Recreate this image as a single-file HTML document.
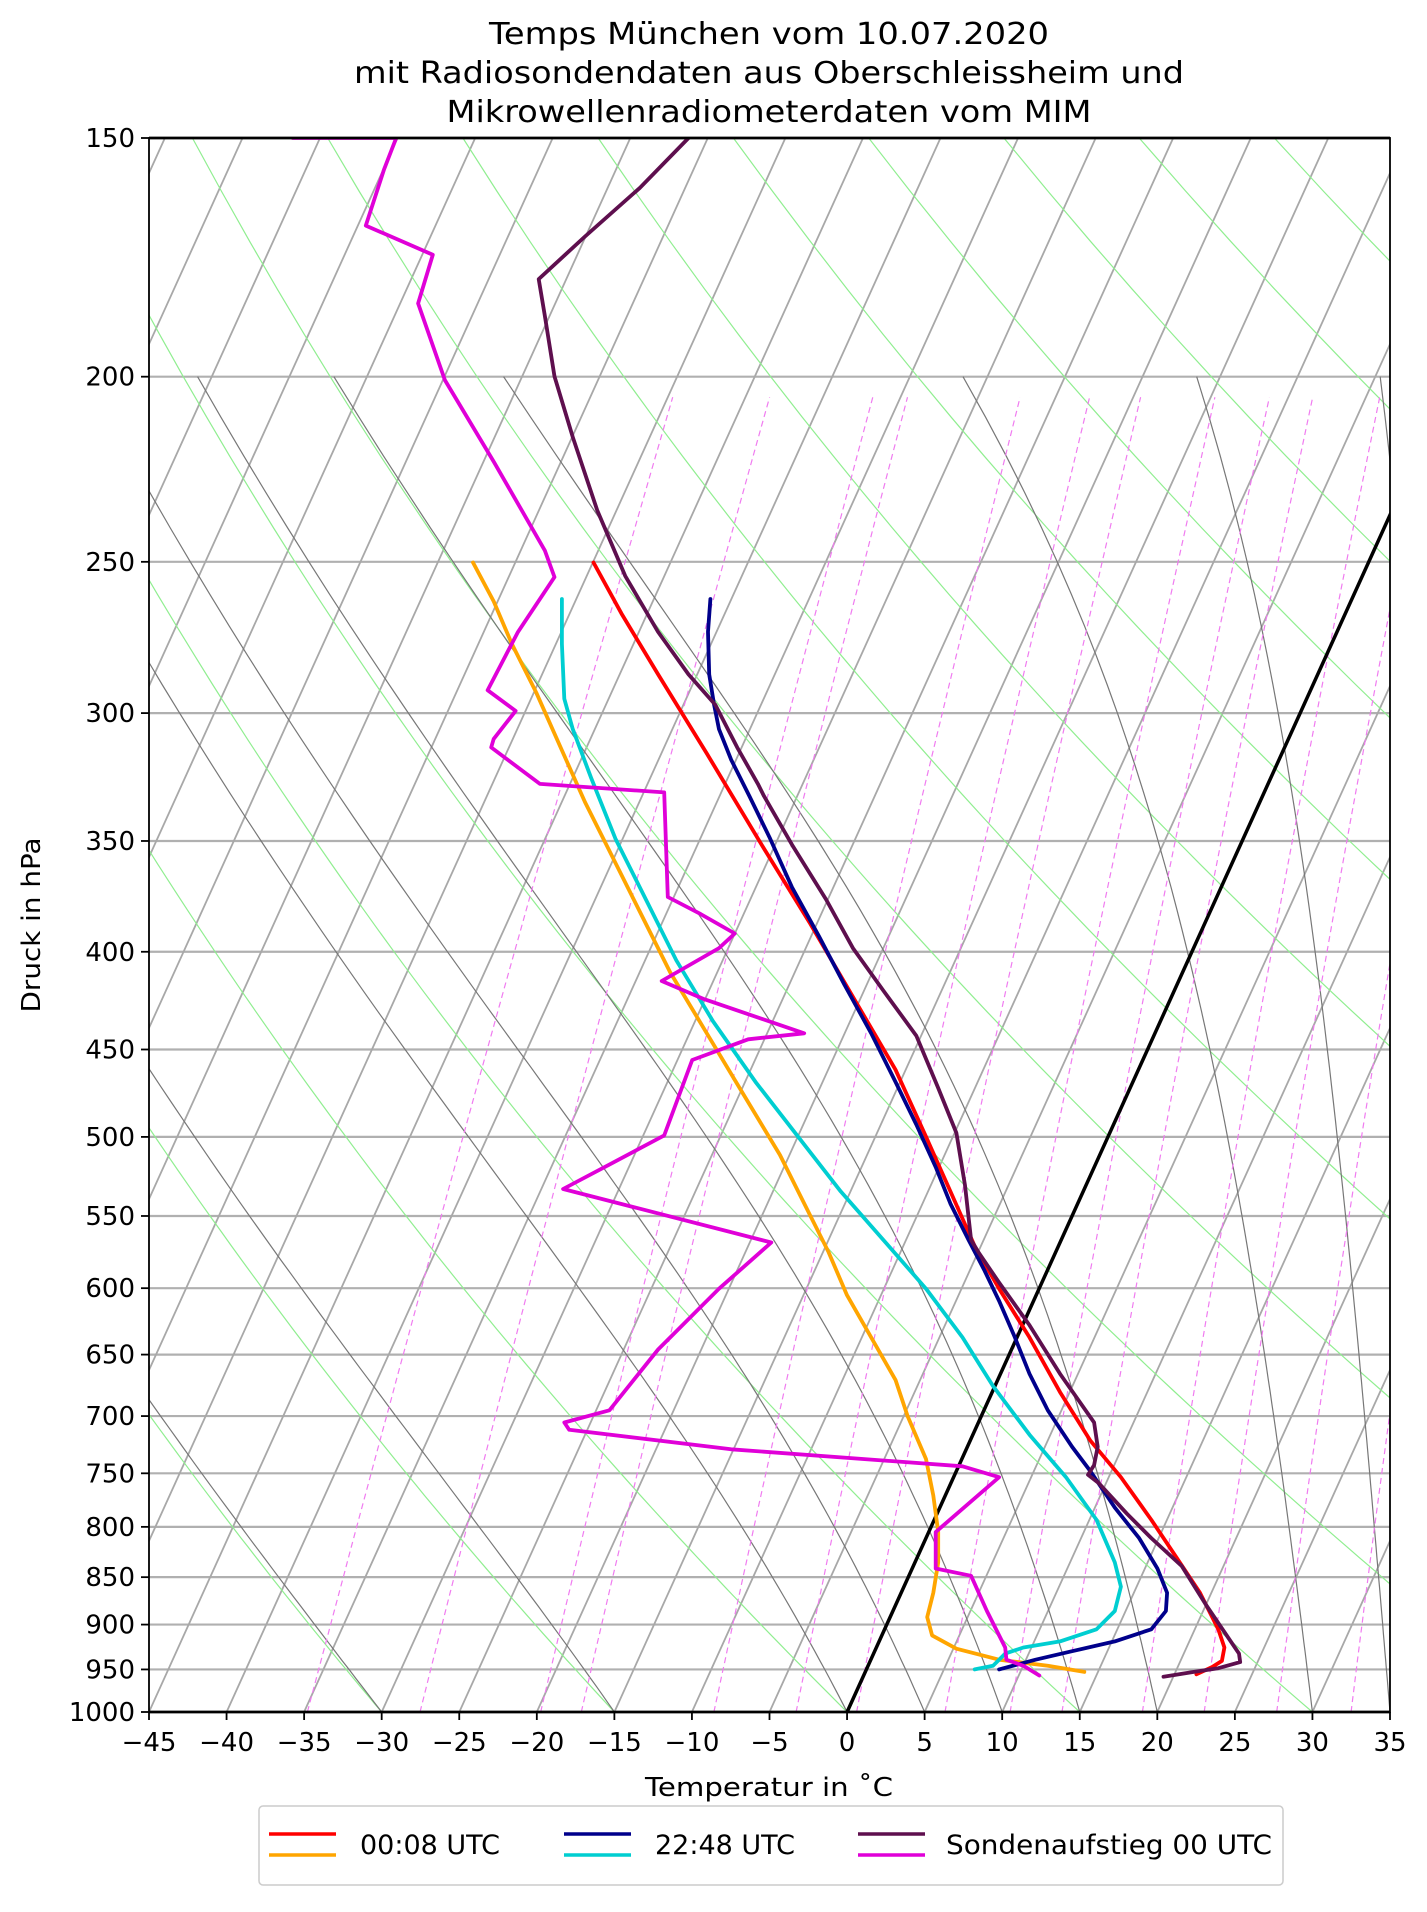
<!DOCTYPE html>
<html><head><meta charset="utf-8"><style>
html,body{margin:0;padding:0;background:#fff;}
svg text{font-family:"DejaVu Sans","Liberation Sans",sans-serif;fill:#000;}
</style></head><body>
<svg id="s" width="1427" height="1907" xmlns="http://www.w3.org/2000/svg">
<defs><clipPath id="c"><rect x="149" y="138" width="1241" height="1574"/></clipPath></defs>
<g id="bg" clip-path="url(#c)"></g>
<g id="data" clip-path="url(#c)"></g>
<g id="ax"></g>
<text x="769" y="44" font-size="30" text-anchor="middle" textLength="560" lengthAdjust="spacingAndGlyphs">Temps München vom 10.07.2020</text>
<text x="769" y="83" font-size="30" text-anchor="middle" textLength="830" lengthAdjust="spacingAndGlyphs">mit Radiosondendaten aus Oberschleissheim und</text>
<text x="769" y="122" font-size="30" text-anchor="middle" textLength="645" lengthAdjust="spacingAndGlyphs">Mikrowellenradiometerdaten vom MIM</text>
<text x="769" y="1796" font-size="26" text-anchor="middle" textLength="248" lengthAdjust="spacingAndGlyphs">Temperatur in ˚C</text>
<text transform="translate(40,925) rotate(-90)" font-size="26" text-anchor="middle" textLength="175" lengthAdjust="spacingAndGlyphs">Druck in hPa</text>
<rect x="259" y="1806" width="1024" height="79" rx="4" fill="#fff" stroke="#ccc" stroke-width="1.5"/>
<line x1="269" y1="1834" x2="336" y2="1834" stroke="#ff0000" stroke-width="3.5"/>
<line x1="269" y1="1855" x2="336" y2="1855" stroke="#ffa500" stroke-width="3.5"/>
<text x="360" y="1854" font-size="27">00:08 UTC</text>
<line x1="564" y1="1834" x2="631" y2="1834" stroke="#00008b" stroke-width="3.5"/>
<line x1="564" y1="1855" x2="631" y2="1855" stroke="#00ced1" stroke-width="3.5"/>
<text x="655" y="1854" font-size="27">22:48 UTC</text>
<line x1="858" y1="1834" x2="925" y2="1834" stroke="#5e0f4e" stroke-width="3.5"/>
<line x1="858" y1="1855" x2="925" y2="1855" stroke="#e000d8" stroke-width="3.5"/>
<text x="946" y="1854" font-size="27" textLength="326" lengthAdjust="spacingAndGlyphs">Sondenaufstieg 00 UTC</text>
</svg>
<script>
(function(){
var L=149,R=1390,T=138,B=1712,NS="http://www.w3.org/2000/svg";
var ppc=(R-L)/80, sk=0.4536, LN=Math.log(1000/150);
function Y(p){return T+(B-T)*Math.log(p/150)/LN;}
function X(t,p){return L+(t+45)*ppc+(B-Y(p))*sk;}
var bg=document.getElementById('bg'),ax=document.getElementById('ax'),dg=document.getElementById('data');
function el(par,tag,a){var e=document.createElementNS(NS,tag);for(var k in a)e.setAttribute(k,a[k]);par.appendChild(e);return e;}
function poly(par,pts,st,w,extra){var d=pts.map(function(q){return q[0].toFixed(1)+','+q[1].toFixed(1);}).join(' ');var a={points:d,fill:'none',stroke:st,'stroke-width':w,'stroke-linejoin':'round'};for(var k in extra)a[k]=extra[k];return el(par,'polyline',a);}
var plev=[150,200,250,300,350,400,450,500,550,600,650,700,750,800,850,900,950,1000];
plev.forEach(function(p){el(bg,'line',{x1:L,x2:R,y1:Y(p),y2:Y(p),stroke:'#b0b0b0','stroke-width':2.2});});
for(var t=-150;t<=40;t+=5){poly(bg,[[X(t,1000),Y(1000)],[X(t,150),Y(150)]],'#a8a8a8',1.8);}
for(var th=-60;th<=250;th+=15){var pts=[];for(var p=1000;p>=150;p-=10){var tk=(th+273.15)*Math.pow(p/1000,0.286);pts.push([X(tk-273.15,p),Y(p)]);}poly(bg,pts,'#90ee90',1.2);}
function es(tc){return 6.112*Math.exp(17.67*tc/(tc+243.5));}
[-30,-15,0,5,10,15,20,30,35,40].forEach(function(t0){var tk=t0+273.15,p=1000,pts=[[X(t0,1000),Y(1000)]];var dp=-1;
 while(p>200){var tc=tk-273.15,e=es(tc),rs=0.622*e/(p-e);var Lv=2.501e6,Rd=287.04,cp=1005.7;
  var dTdp=(1/p)*(Rd*tk+Lv*rs)/(cp+Lv*Lv*rs*0.622/(Rd*tk*tk));tk+=dTdp*dp;p+=dp;if(Math.round(p)%10==0)pts.push([X(tk-273.15,p),Y(p)]);}
 poly(bg,pts,'#777',1.2);});
[0.2,0.4,0.8,1,2,3,4,6,8,10,14,18,24,32].forEach(function(w){w/=1000;var pts=[];for(var p=1000;p>=205;p-=15){var e=w*p/(0.622+w);var l=Math.log(e/6.112);var td=243.5*l/(17.67-l);pts.push([X(td,p),Y(p)]);}
 var e2=w*205/(0.622+w),l2=Math.log(e2/6.112);pts.push([X(243.5*l2/(17.67-l2),205),Y(205)]);
 poly(bg,pts,'#f07cf0',1.2,{'stroke-dasharray':'6,4'});});
poly(bg,[[X(0,1000),Y(1000)],[X(0,150),Y(150)]],'#000',3.5);
var sx=(R-L)/(1141-122),sy=(B-T)/(1408-114);
function tr(a){return a.map(function(q){return [L+(q[0]-122)*sx,T+(q[1]-114)*sy];});}
var S={
'#ff0000':[[487,463],[510,505],[540,555],[580,620],[625,695],[665,760],[700,820],[735,880],[760,935],[780,980],[800,1025],[820,1060],[845,1100],[870,1145],[895,1185],[920,1215],[945,1250],[965,1280],[985,1310],[1000,1340],[1005,1355],[1003,1366],[995,1371],[982,1377]],
'#ffa500':[[388,463],[405,495],[420,530],[440,570],[460,615],[480,660],[500,700],[525,750],[550,800],[580,850],[610,900],[640,950],[665,1000],[680,1030],[695,1065],[715,1100],[735,1135],[745,1165],[760,1200],[766,1230],[770,1260],[770,1285],[766,1310],[761,1330],[765,1345],[785,1356],[820,1365],[860,1370],[890,1375]],
'#00ced1':[[461,493],[461,530],[463,575],[470,600],[485,640],[505,690],[530,740],[555,790],[585,840],[620,890],[655,935],[690,980],[725,1020],[760,1060],[790,1100],[815,1140],[845,1180],[875,1215],[900,1250],[915,1285],[920,1305],[915,1325],[900,1340],[870,1350],[840,1355],[825,1360],[815,1370],[800,1373]],
'#00008b':[[583,493],[581,520],[582,555],[586,580],[590,600],[600,625],[615,655],[632,690],[650,730],[672,770],[693,810],[715,850],[735,890],[752,925],[768,960],[780,990],[795,1020],[808,1045],[820,1070],[833,1100],[845,1130],[860,1160],[880,1190],[895,1210],[915,1240],[935,1265],[950,1290],[958,1310],[957,1325],[945,1340],[915,1350],[880,1358],[850,1365],[820,1373]],
'#5e0f4e':[[565,114],[525,155],[480,195],[442,230],[447,260],[455,310],[470,360],[490,420],[513,474],[540,520],[565,555],[587,580],[605,615],[622,645],[627,655],[650,695],[678,740],[700,780],[725,815],[752,852],[770,895],[785,932],[792,975],[797,1020],[803,1030],[820,1055],[845,1090],[870,1130],[898,1170],[901,1190],[898,1205],[893,1213],[902,1220],[925,1245],[945,1265],[970,1288],[990,1320],[1017,1360],[1018,1367],[1000,1372],[980,1375],[955,1379]],
'#e000d8':[[240,114],[325,114],[315,140],[300,186],[355,210],[343,250],[365,313],[405,380],[447,453],[455,475],[425,520],[400,568],[423,585],[405,608],[403,615],[443,645],[545,652],[548,738],[575,752],[603,768],[590,780],[543,807],[578,822],[660,850],[614,855],[568,872],[545,934],[500,958],[462,978],[633,1022],[590,1060],[540,1110],[500,1160],[463,1170],[467,1176],[600,1192],[790,1206],[820,1215],[768,1260],[768,1290],[797,1296],[810,1325],[825,1355],[826,1365],[840,1370],[853,1378]]
};
for(var c in S)poly(dg,tr(S[c]),c,3.8,{'stroke-linecap':'round'});
el(ax,'rect',{x:L,y:T,width:R-L,height:B-T,fill:'none',stroke:'#000','stroke-width':1.8});
el(ax,'line',{x1:L,x2:R,y1:T,y2:T,stroke:'#000','stroke-width':2.8});
el(ax,'line',{x1:L,x2:R,y1:B,y2:B,stroke:'#000','stroke-width':2.8});
plev.forEach(function(p){var y=Y(p);el(ax,'line',{x1:L-8,x2:L,y1:y,y2:y,stroke:'#000','stroke-width':1.8});var t=el(ax,'text',{x:L-14,y:y+9,'font-size':26,'text-anchor':'end'});t.textContent=p;});
for(var t=-45;t<=35;t+=5){var x=L+(t+45)*ppc;el(ax,'line',{x1:x,x2:x,y1:B,y2:B+8,stroke:'#000','stroke-width':1.8});var tx=el(ax,'text',{x:x,y:B+39,'font-size':26,'text-anchor':'middle'});tx.textContent=(t<0?'\u2212'+(-t):t);}
})();
</script>
</body></html>
